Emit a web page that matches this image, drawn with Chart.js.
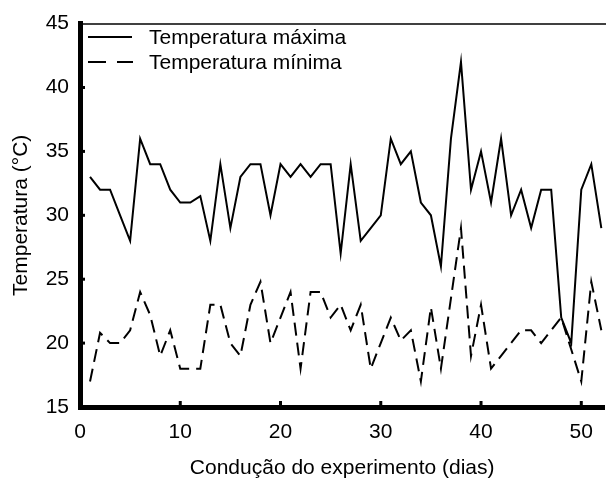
<!DOCTYPE html>
<html><head><meta charset="utf-8">
<script src="https://cdn.jsdelivr.net/npm/chart.js@4/dist/chart.umd.min.js"></script>
<style>html,body{margin:0;padding:0;background:#fff}#wrap{width:606px;height:479px}</style>
</head><body><div id="wrap"><canvas id="c" width="606" height="479"></canvas></div>
<script>
const days = [1,2,3,4,5,6,7,8,9,10,11,12,13,14,15,16,17,18,19,20,21,22,23,24,25,26,27,28,29,30,31,32,33,34,35,36,37,38,39,40,41,42,43,44,45,46,47,48,49,50,51,52];
const tempMax = [33,32,32,30,28,36,34,34,32,31,31,31.5,28,34,29,33,34,34,30,34,33,34,33,34,34,27,34,28,29,30,36,34,35,31,30,26,36,42,32,35,31,36,30,32,29,32,32,22,20,32,34,29];
const tempMin = [17,20.8,20,20,21,24,22.2,19,21,18,18,18,23,23,20,19,23,24.8,20,22,24,18,24,24,22,23,21,23,18,20,22,20.2,21,17,22.8,18,23.5,29,19,23,18,19,20,21,21,20,21,22,19.5,17,24.8,21];
const xTicks = [0,10,20,30,40,50];
const yTicks = [15,20,25,30,35,40,45];
const labelMax = 'Temperatura máxima';
const labelMin = 'Temperatura mínima';
const xTitle = 'Condução do experimento (dias)';
const yTitle = 'Temperatura (°C)';

const FONT = 'Liberation Sans, Arial, sans-serif';
const FS = 21;

const decor = {
  id:'decor',
  afterDraw(chart){
    const ctx = chart.ctx, a = chart.chartArea;
    const xs = chart.scales.x, ys = chart.scales.y;
    ctx.save();
    ctx.strokeStyle = '#000';
    ctx.lineWidth = 1.5;
    ctx.beginPath(); ctx.moveTo(a.left, a.top+0.5); ctx.lineTo(606, a.top+0.5); ctx.stroke();
    ctx.lineWidth = 3;
    yTicks.slice(1,-1).forEach(v=>{
      const y = ys.getPixelForValue(v);
      ctx.beginPath(); ctx.moveTo(a.left, y); ctx.lineTo(a.left+5, y); ctx.stroke();
    });
    xTicks.slice(1).forEach(v=>{
      const x = xs.getPixelForValue(v);
      ctx.beginPath(); ctx.moveTo(x, a.bottom); ctx.lineTo(x, a.bottom-6); ctx.stroke();
    });
    ctx.lineWidth = 2;
    ctx.font = FS + 'px ' + FONT;
    ctx.fillStyle = '#000';
    ctx.textBaseline = 'middle';
    ctx.setLineDash([]);
    ctx.beginPath(); ctx.moveTo(88, 37); ctx.lineTo(132, 37); ctx.stroke();
    ctx.fillText(labelMax, 149, 38);
    ctx.setLineDash([18,11]);
    ctx.beginPath(); ctx.moveTo(88, 62); ctx.lineTo(133, 62); ctx.stroke();
    ctx.setLineDash([]);
    ctx.fillText(labelMin, 149, 63);
    ctx.restore();
  }
};

new Chart(document.getElementById('c'), {
  type:'line',
  data:{
    datasets:[
      {label:labelMax, data:days.map((d,i)=>({x:d,y:tempMax[i]})), borderColor:'#000', borderWidth:2, pointRadius:0, tension:0, fill:false},
      {label:labelMin, data:days.map((d,i)=>({x:d,y:tempMin[i]})), borderColor:'#000', borderWidth:2, borderDash:[13,7], pointRadius:0, tension:0, fill:false}
    ]
  },
  options:{
    responsive:false, animation:false, devicePixelRatio:1,
    layout:{padding:{top:20,right:1,left:0,bottom:0}},
    plugins:{legend:{display:false}, tooltip:{enabled:false}},
    scales:{
      x:{type:'linear', min:0, max:52.3,
        afterBuildTicks(s){ s.ticks = xTicks.map(v=>({value:v})); },
        afterFit(s){ s.height = 72; },
        grid:{display:false, drawTicks:false},
        border:{display:true, width:5, color:'#000'},
        ticks:{color:'#000', font:{family:FONT, size:FS}, padding:13, maxRotation:0, autoSkip:false},
        title:{display:true, text:xTitle, color:'#000', font:{family:FONT, size:FS}, padding:{top:0,bottom:-2}}
      },
      y:{type:'linear', min:15, max:45,
        afterBuildTicks(s){ s.ticks = yTicks.map(v=>({value:v})); },
        afterFit(s){ s.width = 80; },
        grid:{display:false, drawTicks:false},
        border:{display:true, width:5, color:'#000'},
        ticks:{color:'#000', font:{family:FONT, size:FS}, padding:11},
        title:{display:true, text:yTitle, color:'#000', font:{family:FONT, size:FS}, padding:{top:9,bottom:0}}
      }
    }
  },
  plugins:[decor]
});
</script></body></html>
